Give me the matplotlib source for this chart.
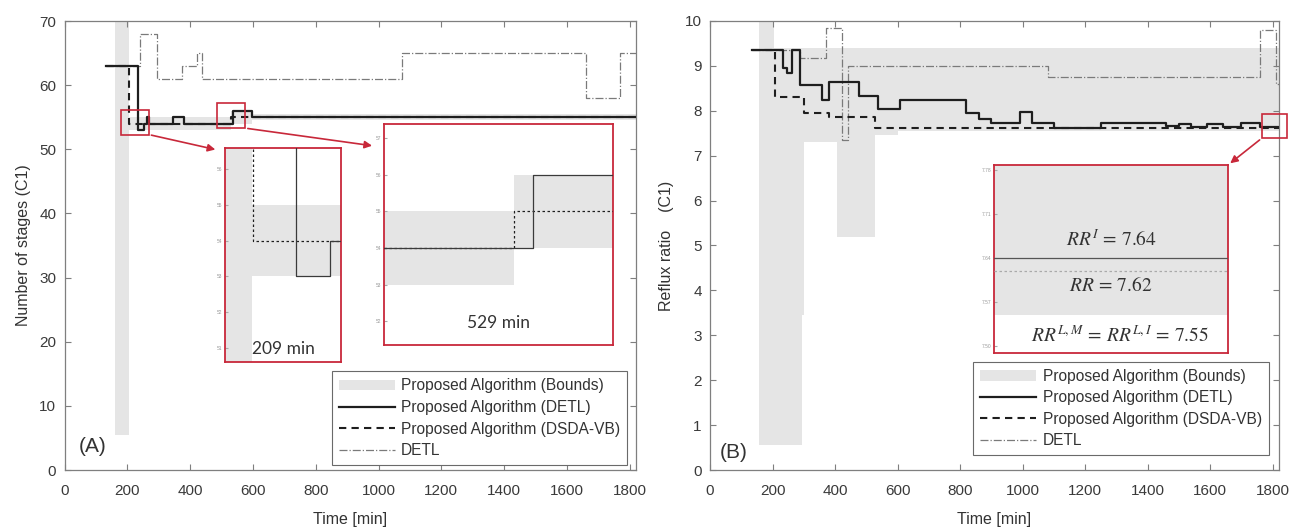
import numpy as np
import matplotlib
matplotlib.use("Agg")
import matplotlib.pyplot as plt
from matplotlib.patches import Patch, Rectangle
from matplotlib.lines import Line2D

plt.rcParams['font.family'] = ['Liberation Sans', 'DejaVu Sans']
plt.rcParams['mathtext.fontset'] = 'stix'

# ---- panel A: number of stages ----
a_bnd_t = [160, 205, 529, 597, 1820]
a_bnd_lo = [5.5, 53, 54, 54.5]
a_bnd_hi = [70, 55, 56, 55.5]

a_sol_t = [133, 232.6, 254, 262, 268, 344, 380, 536, 597, 1820]
a_sol_v = [63, 53, 54, 55, 54, 55, 54, 56, 55, 55]

a_dsh_t = [133, 205.6, 529, 1820]
a_dsh_v = [63, 54, 55, 55]

a_detl_t = [133, 242, 294, 374, 421, 438.6, 1074, 1662, 1768, 1820]
a_detl_v = [63, 68, 61, 63, 65, 61, 65, 58, 65, 65]

# ---- panel B: reflux ratio ----
b_bnd_t = [158, 205, 293, 300, 405, 527, 600, 1820]
b_bnd_lo = [0.55, 0.55, 3.45, 7.3, 5.2, 7.47, 7.55]
b_bnd_hi = [10, 9.4, 9.4, 9.4, 9.4, 9.4, 9.4]

b_sol_t = [133, 234, 245, 262, 288, 358, 382, 476, 538, 607, 820, 860, 900,
           992, 1030, 1100, 1250, 1460, 1500, 1540, 1590, 1640, 1700, 1760, 1820]
b_sol_v = [9.35, 8.95, 8.85, 9.35, 8.57, 8.24, 8.65, 8.33, 8.05, 8.25, 7.94,
           7.82, 7.73, 7.98, 7.72, 7.62, 7.72, 7.66, 7.70, 7.63, 7.70, 7.65,
           7.72, 7.64, 7.64]

b_dsh_t = [133, 208, 300, 380, 527, 1820]
b_dsh_v = [9.35, 8.30, 7.95, 7.87, 7.62, 7.62]

b_detl_t = [133, 288, 371, 421, 442, 1080, 1758, 1812, 1820]
b_detl_v = [9.35, 9.17, 9.84, 7.35, 9.0, 8.75, 9.8, 8.6, 8.6]

xticks = list(range(0, 1801, 200))
legend_labels = ['Proposed Algorithm (Bounds)', 'Proposed Algorithm (DETL)',
                 'Proposed Algorithm (DSDA-VB)', 'DETL']

GREY_FILL = '#e5e5e5'
DARK = '#1e1e1e'
DETL_C = '#7a7a7a'
RED = '#c8283a'
SPINE = '#7f7f7f'
W, H = 1290, 530


def px_axes(fig, left, right, top, bottom):
    return fig.add_axes([left / W, 1 - bottom / H, (right - left) / W, (bottom - top) / H])


def draw_series(ax, bt, blo, bhi, st, sv, dt, dv, et, ev, lw=1.6, thin=False):
    ax.fill_between(bt, blo + [blo[-1]], bhi + [bhi[-1]], step='post',
                    color=GREY_FILL, lw=0, zorder=1)
    ax.step(et, ev, where='post', color=DETL_C, lw=0.8 if thin else 0.9,
            ls='-.', zorder=2)
    ax.step(dt, dv, where='post', color=DARK, lw=0.9 if thin else lw - 0.1,
            dashes=(2, 2) if thin else (3.5, 2.5), zorder=3)
    ax.step(st, sv, where='post', color='#3a3a3a' if thin else DARK,
            lw=0.9 if thin else lw, zorder=4)


def style_main(ax):
    for s in ax.spines.values():
        s.set_color(SPINE)
        s.set_linewidth(0.9)
    ax.tick_params(direction='in', top=True, right=True, length=4,
                   color=SPINE, labelcolor='#3a3a3a', labelsize=11)
    ax.tick_params(axis='x', pad=10)
    ax.tick_params(axis='y', pad=6)
    ax.set_xlim(0, 1820)
    ax.set_xticks(xticks)
    ax.set_xlabel('Time [min]', fontsize=11.5, color='#333333', labelpad=10)


def style_inset(ax, xlim, ylim, yticks, fmt):
    ax.set_xlim(*xlim)
    ax.set_ylim(*ylim)
    ax.set_xticks([])
    ax.set_yticks(yticks)
    ax.set_yticklabels([fmt.format(v) for v in yticks])
    ax.tick_params(axis='y', direction='in', length=2, color='#aaaaaa',
                   labelsize=3.5, labelcolor='#999999', pad=2)
    for s in ax.spines.values():
        s.set_color(RED)
        s.set_linewidth(1.3)
    ax.set_facecolor('white')


def add_legend(ax, anchor):
    handles = [Patch(facecolor=GREY_FILL, edgecolor='none'),
               Line2D([], [], color=DARK, lw=1.6),
               Line2D([], [], color=DARK, lw=1.5, dashes=(3.5, 2.5)),
               Line2D([], [], color=DETL_C, lw=0.9, ls='-.')]
    leg = ax.legend(handles, legend_labels, loc='lower right',
                    bbox_to_anchor=anchor, borderaxespad=0, fontsize=11.2,
                    handlelength=3.6, handletextpad=0.4, labelspacing=0.42,
                    borderpad=0.45, fancybox=False, framealpha=1)
    leg.get_frame().set_edgecolor('#6a6a6a')
    leg.get_frame().set_linewidth(0.8)
    for t in leg.get_texts():
        t.set_color('#333333')


fig = plt.figure(figsize=(12.9, 5.3), dpi=100)

# ================= panel A =================
axA = px_axes(fig, 64.5, 636, 21, 470)
draw_series(axA, a_bnd_t, a_bnd_lo, a_bnd_hi, a_sol_t, a_sol_v,
            a_dsh_t, a_dsh_v, a_detl_t, a_detl_v)
style_main(axA)
axA.set_ylim(0, 70)
axA.set_yticks(range(0, 71, 10))
axA.set_ylabel('Number of stages (C1)', fontsize=11.5, color='#333333', labelpad=6)
axA.text(0.05, 0.053, '(A)', transform=axA.transAxes, fontsize=15,
         color='#333333', ha='center', va='center')
add_legend(axA, (0.984, 0.011))

# zoom boxes on panel A
box1 = (180, 52.3, 88, 3.8)
box2 = (486, 53.3, 89, 3.9)
for bx in (box1, box2):
    axA.add_patch(Rectangle(bx[:2], bx[2], bx[3], fill=False, ec=RED, lw=1.2,
                            zorder=6, clip_on=False))

insA1 = px_axes(fig, 225, 341, 148, 362)
draw_series(insA1, a_bnd_t, a_bnd_lo, a_bnd_hi, a_sol_t, a_sol_v,
            a_dsh_t, a_dsh_v, a_detl_t, a_detl_v, thin=True)
style_inset(insA1, (188, 261), (50.6, 56.6), [51, 52, 53, 54, 55, 56], '{:d}')
insA1.text(0.5, 0.06, '209 min', transform=insA1.transAxes, ha='center',
           va='center', fontsize=12.5, family=['Lato', 'DejaVu Sans'], color='#333333')

insA2 = px_axes(fig, 384, 613, 124, 345)
draw_series(insA2, a_bnd_t, a_bnd_lo, a_bnd_hi, a_sol_t, a_sol_v,
            a_dsh_t, a_dsh_v, a_detl_t, a_detl_v, thin=True)
style_inset(insA2, (480, 566), (51.35, 57.39), [52, 53, 54, 55, 56, 57], '{:d}')
insA2.text(0.5, 0.1, '529 min', transform=insA2.transAxes, ha='center',
           va='center', fontsize=12.5, family=['Lato', 'DejaVu Sans'], color='#333333')

arrow = dict(arrowstyle='-|>', color=RED, lw=1.2, mutation_scale=11)
axA.annotate('', xy=(-0.06, 0.99), xycoords=insA1.transAxes,
             xytext=(box1[0] + box1[2], box1[1]), textcoords='data',
             arrowprops=arrow, zorder=7)
axA.annotate('', xy=(-0.04, 0.9), xycoords=insA2.transAxes,
             xytext=(box2[0] + box2[2], box2[1]), textcoords='data',
             arrowprops=arrow, zorder=7)

# ================= panel B =================
axB = px_axes(fig, 710, 1279, 21, 470)
draw_series(axB, b_bnd_t, b_bnd_lo, b_bnd_hi, b_sol_t, b_sol_v,
            b_dsh_t, b_dsh_v, b_detl_t, b_detl_v)
style_main(axB)
axB.set_ylim(0, 10)
axB.set_yticks(range(0, 11))
axB.set_ylabel('Reflux ratio    (C1)', fontsize=11.5, color='#333333', labelpad=8)
axB.text(0.042, 0.038, '(B)', transform=axB.transAxes, fontsize=15,
         color='#333333', ha='center', va='center')
add_legend(axB, (0.982, 0.033))

boxB = (1765, 7.39, 80, 0.53)
axB.add_patch(Rectangle(boxB[:2], boxB[2], boxB[3], fill=False, ec=RED, lw=1.2,
                        zorder=6, clip_on=False))

insB = px_axes(fig, 994, 1228, 165, 353)
draw_series(insB, b_bnd_t, b_bnd_lo, b_bnd_hi, b_sol_t, b_sol_v,
            b_dsh_t, b_dsh_v, b_detl_t, b_detl_v, thin=True)
insB.lines[-1].set_color('#555555')
insB.lines[-2].set_color('#aaaaaa')
style_inset(insB, (1770, 1820), (7.489, 7.788), [7.50, 7.57, 7.64, 7.71, 7.78], '{:.2f}')
insB.text(0.5, 0.6, r'$RR^{I}\,=\,7.64$', transform=insB.transAxes,
          ha='center', va='center', fontsize=14, color='#333333')
insB.text(0.5, 0.36, r'$RR\,=\,7.62$', transform=insB.transAxes,
          ha='center', va='center', fontsize=14, color='#333333')
insB.text(0.54, 0.09, r'$RR^{L,M}\,=\,RR^{L,I}\,=\,7.55$', transform=insB.transAxes,
          ha='center', va='center', fontsize=14, color='#333333')

axB.annotate('', xy=(1.0, 1.0), xycoords=insB.transAxes,
             xytext=(boxB[0], boxB[1]), textcoords='data',
             arrowprops=arrow, zorder=7)

fig.savefig('out.png', dpi=100)
